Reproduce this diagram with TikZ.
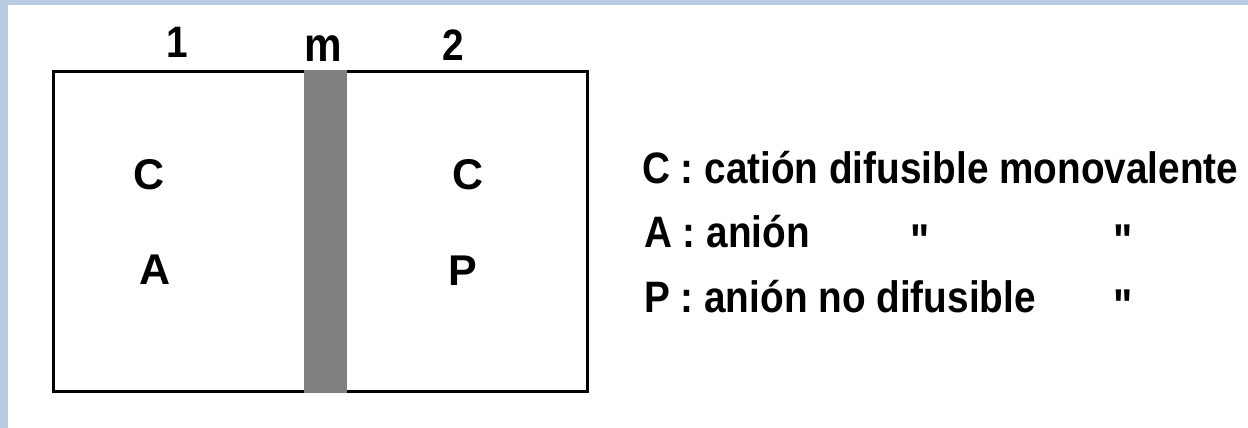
\documentclass[tikz,border=0pt]{standalone}
\usepackage{fontspec}
\setmainfont{Liberation Sans}
\newfontfamily\cond{Liberation Sans}[FakeStretch=0.88]
\newfontfamily\plainsans{Liberation Sans}
\definecolor{frameblue}{HTML}{B8CCE4}
\definecolor{membrane}{HTML}{808080}
\tikzset{
  lbl/.style={font=\cond\fontsize{44}{48}\selectfont\bfseries, anchor=base, inner sep=0pt},
  mlbl/.style={font=\cond\fontsize{48}{52}\selectfont\bfseries, anchor=base, inner sep=0pt},
  big/.style={font=\plainsans\fontsize{43}{46}\selectfont\bfseries, anchor=base, inner sep=0pt},
  leg/.style={font=\cond\fontsize{44}{48}\selectfont\bfseries, anchor=base west, inner sep=0pt},
  quo/.style={font=\cond\fontsize{46}{48}\selectfont\bfseries, anchor=base, inner sep=0pt},
  boxline/.style={draw=black, line width=3pt}
}
\begin{document}
\begin{tikzpicture}[x=1pt,y=-1pt]
\useasboundingbox (0,0) rectangle (1248,428);
\fill[frameblue] (0,0) rectangle (1248,428);
\fill[white] (8,5) rectangle (1248,428);
% box
\draw[boxline] (53,72) rectangle (587,391.5);
\fill[membrane] (304,70.5) rectangle (347,393);
% top labels
\node[lbl] (n1) at (177,58) {1};
\node[mlbl] (nm) at (323,62) {m};
\node[lbl] (n2) at (453,61) {2};
% inner letters
\node[big] (c1) at (149,189) {C};
\node[big] (a1) at (155,284) {A};
\node[big] (c2) at (468,189) {C};
\node[big] (p2) at (463,285) {P};
% legend
\node[leg] (lc) at (642,183) {C : catión difusible monovalente};
\node[leg] (la) at (644,247) {A : anión};
\node[leg] (lp) at (644,312) {P : anión no difusible};
\node[quo] (q1) at (920,256) {"};
\node[quo] (q2) at (1123,256) {"};
\node[quo] (q3) at (1123,321) {"};
\end{tikzpicture}
\end{document}
